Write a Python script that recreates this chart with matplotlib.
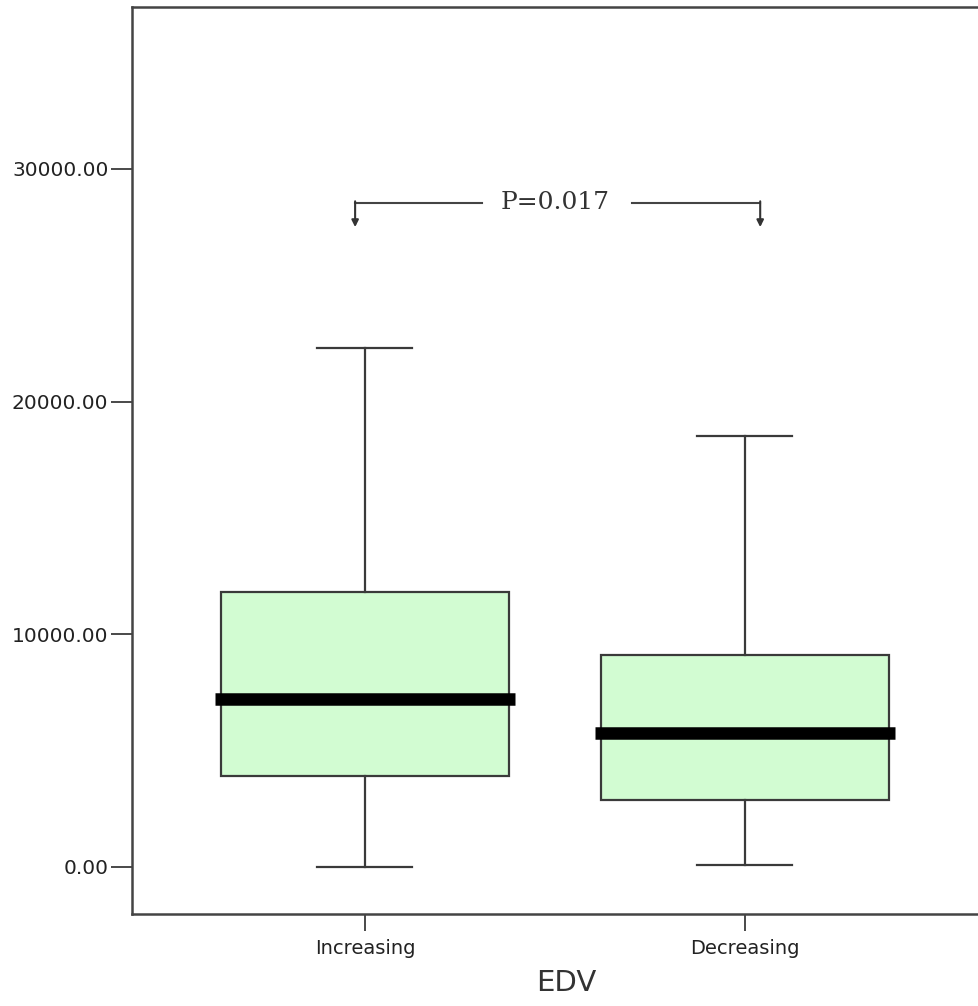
import matplotlib
matplotlib.use("Agg")
import matplotlib.pyplot as plt

groups = ["Increasing", "Decreasing"]
whisker_low = [0, 100]
q1 = [3910, 2880]
median = [7220, 5760]
q3 = [11820, 9110]
whisker_high = [22300, 18520]
y_ticks = [0, 10000, 20000, 30000]
p_text = "P=0.017"

fig = plt.figure(figsize=(9.79, 10.06), dpi=100)
ax = fig.add_axes([132/979, 92/1006, (1000-132)/979, 907/1006])

stats = []
for i, g in enumerate(groups):
    stats.append(dict(label=g, whislo=whisker_low[i], q1=q1[i], med=median[i],
                      q3=q3[i], whishi=whisker_high[i], fliers=[]))
positions = list(range(1, len(groups) + 1))
bw = 0.76
ax.bxp(stats, positions=positions, widths=bw, patch_artist=True, showfliers=False,
       boxprops=dict(facecolor="#d2fcd2", edgecolor="#3a3a3a", linewidth=1.6),
       whiskerprops=dict(color="#3a3a3a", linewidth=1.6),
       capprops=dict(color="#3a3a3a", linewidth=1.6),
       medianprops=dict(linewidth=0),
       capwidths=0.25)
ax.hlines(median, [p - bw/2 - 0.015 for p in positions], [p + bw/2 + 0.015 for p in positions],
          color="black", linewidth=9, zorder=5)

ax.set_xlim(1 - 233/380, 2 + 255/380)
ax.set_ylim(-2020, 36960)
ax.set_yticks(y_ticks)
ax.set_yticklabels([f"{v:.2f}" for v in y_ticks])
ax.set_xticks(positions)
ax.set_xticklabels(groups)
ax.tick_params(axis="y", length=15, width=1.3, color="#3a3a3a", labelsize=14.5, pad=2)
ax.tick_params(axis="x", length=12, width=1.3, color="#3a3a3a", labelsize=14, pad=6)
for lbl in ax.get_yticklabels() + ax.get_xticklabels():
    lbl.set_color("#222222")
ax.set_xlabel("EDV", fontsize=21, color="#333333", labelpad=8)
for s in ["left", "bottom", "top"]:
    ax.spines[s].set_linewidth(1.8)
    ax.spines[s].set_color("#444444")
ax.spines["right"].set_visible(False)

# significance bracket
yb = 28550
ytip = 27500
ax.plot([0.974, 1.308], [yb, yb], color="#444444", lw=1.5)
ax.plot([1.703, 2.04], [yb, yb], color="#444444", lw=1.5)
ax.annotate("", xy=(0.974, ytip), xytext=(0.974, yb + 60),
            arrowprops=dict(arrowstyle="-|>", color="#333333", lw=1.5,
                            mutation_scale=10, shrinkA=0, shrinkB=0))
ax.annotate("", xy=(2.04, ytip), xytext=(2.04, yb + 60),
            arrowprops=dict(arrowstyle="-|>", color="#333333", lw=1.5,
                            mutation_scale=10, shrinkA=0, shrinkB=0))
ax.text(1.5, yb, p_text, ha="center", va="center", fontsize=18,
        family="DejaVu Serif", color="#333333")

fig.savefig("out.png", dpi=100)
